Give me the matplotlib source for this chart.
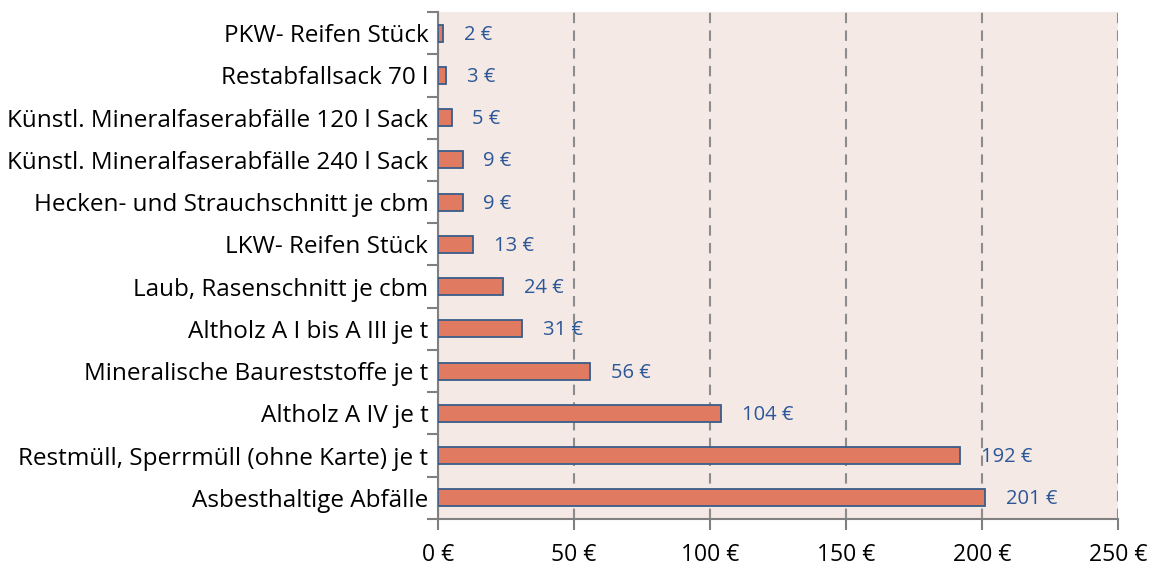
import numpy as np
import matplotlib.pyplot as plt

categories = [
    "Asbesthaltige Abfälle",
    "Restmüll, Sperrmüll (ohne Karte) je t",
    "Altholz A IV je t",
    "Mineralische Baureststoffe je t",
    "Altholz A I bis A III je t",
    "Laub, Rasenschnitt je cbm",
    "LKW- Reifen Stück",
    "Hecken- und Strauchschnitt je cbm",
    "Künstl. Mineralfaserabfälle 240 l Sack",
    "Künstl. Mineralfaserabfälle 120 l Sack",
    "Restabfallsack 70 l",
    "PKW- Reifen Stück",
]
prices = [201, 192, 104, 56, 31, 24, 13, 9, 9, 5, 3, 2]
x_ticks = [0, 50, 100, 150, 200, 250]

plt.rcParams["font.family"] = ["Open Sans", "DejaVu Sans"]

fig = plt.figure(figsize=(11.61, 5.69), dpi=100)
ax = fig.add_axes([0.3773, 0.0879, 0.5856, 0.891])
ax.set_facecolor("#f5e9e6")

y = np.arange(len(categories))
ax.barh(y, prices, height=0.4, color="#e07b62", edgecolor="#385d8a", linewidth=1.3, zorder=3)

# value labels right of each bar
for yi, v in zip(y, prices):
    ax.annotate(f"{v} €", (v, yi), xytext=(15, -1), textcoords="offset points",
                va="center", ha="left", fontsize=14.5, color="#2b5797")

ax.set_xlim(0, 250)
ax.set_ylim(-0.5, len(categories) - 0.5)
ax.set_xticks(x_ticks)
ax.set_xticklabels([f"{t} €" for t in x_ticks], fontsize=16.5)
ax.set_yticks(y)
ax.set_yticklabels(categories, fontsize=17.5)
ax.set_yticks(np.arange(-0.5, len(categories)), minor=True)
ax.tick_params(axis="y", which="major", length=0, pad=7)
ax.tick_params(axis="y", which="minor", length=8, color="#808080", width=1.5)
ax.tick_params(axis="x", length=8, color="#808080", width=1.5, pad=9)

ax.grid(axis="x", linestyle=(0, (5, 3.5)), color="#8c8c8c", linewidth=1.5, zorder=1)
for s in ["top", "right"]:
    ax.spines[s].set_visible(False)
for s in ["left", "bottom"]:
    ax.spines[s].set_color("#808080")
    ax.spines[s].set_linewidth(1.5)

fig.savefig("out.png", dpi=100)
